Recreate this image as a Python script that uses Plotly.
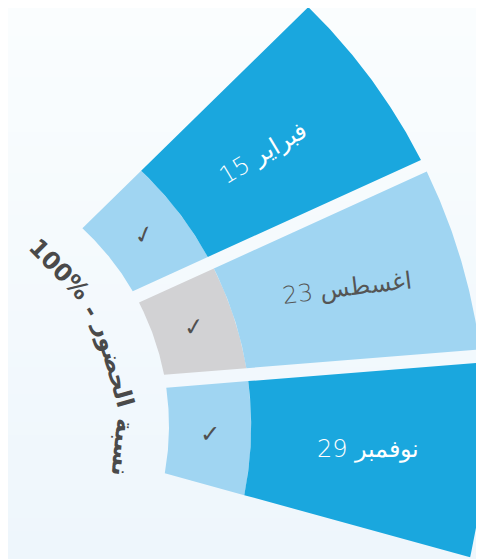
import numpy as np
import plotly.graph_objects as go

# ---------------- data ----------------
months = ["فبراير 15", "اغسطس 23", "نوفمبر 29"]          # session dates
attendance = [100, 100, 100]                              # % reach of each wedge
checked_share = [26, 26, 26]                              # inner (checked) part, in %
status = ["present", "excused", "present"]                # state of the inner part
title_words = ["100%", "-", "الحضور", "نسبة"]             # "نسبة الحضور - 100%" (visual order)

# ---------------- styles / layout ----------------
W, H = 484, 559
BODY = 8                           # default page margin of the html body
C = np.array([-100.0, 426.0])      # arc centre (px, y down)
P = np.array([-95.0, 402.0])       # where the wedge edges converge
R_IN, R_OUT = 269.0, 585.0
A_TOP, A_BOT = 44.4, -15.35        # angular extent of the fan (deg, ccw)
GAP = 13.0                         # constant-width gap between wedges (px)
OUTER_COLORS = ["#1AA7DE", "#A0D5F2", "#1AA7DE"]
STATUS_COLORS = {"present": "#A0D5F2", "excused": "#D2D2D4"}
LABEL_COLORS = ["#FFFFFF", "#555555", "#FFFFFF"]
LABEL_TILT = [-31, -7, 0]
LABEL_DR = [-14, 0, 0]
TEXT_GREY = "#4A4A4A"
TITLE_ANGLES = [44.6, 31.0, 16.0, -5.5]
TITLE_R = 223.0


def radius(v):
    return R_IN + (R_OUT - R_IN) * v / 100.0


def edge(angle, offset):
    a = np.radians(angle)
    u = np.array([np.cos(a), -np.sin(a)])
    down = np.array([np.sin(a), np.cos(a)])      # toward decreasing angle
    return P + down * offset, u


def hit(line, r):
    q, u = line
    d = q - C
    b = u @ d
    c = d @ d - r * r
    t = -b + np.sqrt(b * b - c)
    return q + t * u


def ang(pt):
    return np.degrees(np.arctan2(-(pt[1] - C[1]), pt[0] - C[0]))


def arc(r, a0, a1, n=80):
    t = np.radians(np.linspace(a0, a1, n))
    return C[0] + r * np.cos(t), C[1] - r * np.sin(t)


def polar_pt(r, a):
    t = np.radians(a)
    return C[0] + r * np.cos(t), C[1] - r * np.sin(t)


n = len(months)
step = (A_TOP - A_BOT) / n
bounds = [A_TOP - k * step for k in range(n + 1)]

fig = go.Figure()

# background gradient
top_rgb = np.array([250, 253, 254])
bot_rgb = np.array([238, 246, 252])
NB = 40
shapes = []
for k in range(NB):
    f = k / (NB - 1)
    col = (top_rgb + (bot_rgb - top_rgb) * f).round().astype(int)
    shapes.append(dict(type="rect", xref="paper", yref="paper", x0=0, x1=1,
                       y0=1 - (k + 1) / NB - 0.002, y1=1 - k / NB,
                       fillcolor=f"rgb({col[0]},{col[1]},{col[2]})",
                       line=dict(width=0), layer="below"))

annotations = []
for i in range(n):
    top_line = edge(bounds[i], GAP / 2 if i > 0 else 0.0)
    bot_line = edge(bounds[i + 1], -GAP / 2 if i < n - 1 else 0.0)
    r0 = radius(0)
    r1 = radius(checked_share[i])
    r2 = radius(attendance[i])
    segs = [(r0, r1, STATUS_COLORS[status[i]]), (r1, r2, OUTER_COLORS[i])]
    for ra, rb, col in segs:
        ta, tb = ang(hit(top_line, ra)), ang(hit(top_line, rb))
        ba, bb = ang(hit(bot_line, ra)), ang(hit(bot_line, rb))
        xo, yo = arc(rb, tb, bb)
        xi, yi = arc(ra, ba, ta)
        xs = np.concatenate([xo, xi, xo[:1]])
        ys = np.concatenate([yo, yi, yo[:1]])
        fig.add_trace(go.Scatter(x=xs, y=ys, mode="lines", fill="toself",
                                 fillcolor=col, line=dict(width=0),
                                 hoverinfo="skip", showlegend=False))
    # label in outer part
    rl = (r1 + r2) / 2
    al = (ang(hit(top_line, rl)) + ang(hit(bot_line, rl))) / 2
    lx, ly = polar_pt(rl + LABEL_DR[i], al)
    annotations.append(dict(x=lx, y=ly, xref="x", yref="y", text=months[i],
                            showarrow=False, textangle=LABEL_TILT[i],
                            font=dict(family="DejaVu Sans", size=24,
                                      color=LABEL_COLORS[i], weight=300)))
    # check mark in inner part
    rc = (r0 + r1) / 2
    ac = (ang(hit(top_line, rc)) + ang(hit(bot_line, rc))) / 2
    cx, cy = polar_pt(rc, ac)
    annotations.append(dict(x=cx, y=cy, xref="x", yref="y", text="✓",
                            showarrow=False, textangle=-ac * 0.4,
                            font=dict(family="DejaVu Sans", size=24, color="#505050")))

# curved caption
for w, a in zip(title_words, TITLE_ANGLES):
    x, y = polar_pt(TITLE_R, a)
    annotations.append(dict(x=x, y=y, xref="x", yref="y", text=w, showarrow=False,
                            textangle=90 - a,
                            font=dict(family="DejaVu Sans", size=24, color=TEXT_GREY,
                                      weight="bold")))

fig.update_layout(
    width=W - BODY, height=H - BODY, margin=dict(l=0, r=0, t=0, b=0),
    paper_bgcolor="#F6FAFD", plot_bgcolor="rgba(0,0,0,0)",
    xaxis=dict(range=[BODY, W], visible=False, fixedrange=True),
    yaxis=dict(range=[H, BODY], visible=False, fixedrange=True),
    shapes=shapes, annotations=annotations, showlegend=False,
)
fig.write_html("out.html")
